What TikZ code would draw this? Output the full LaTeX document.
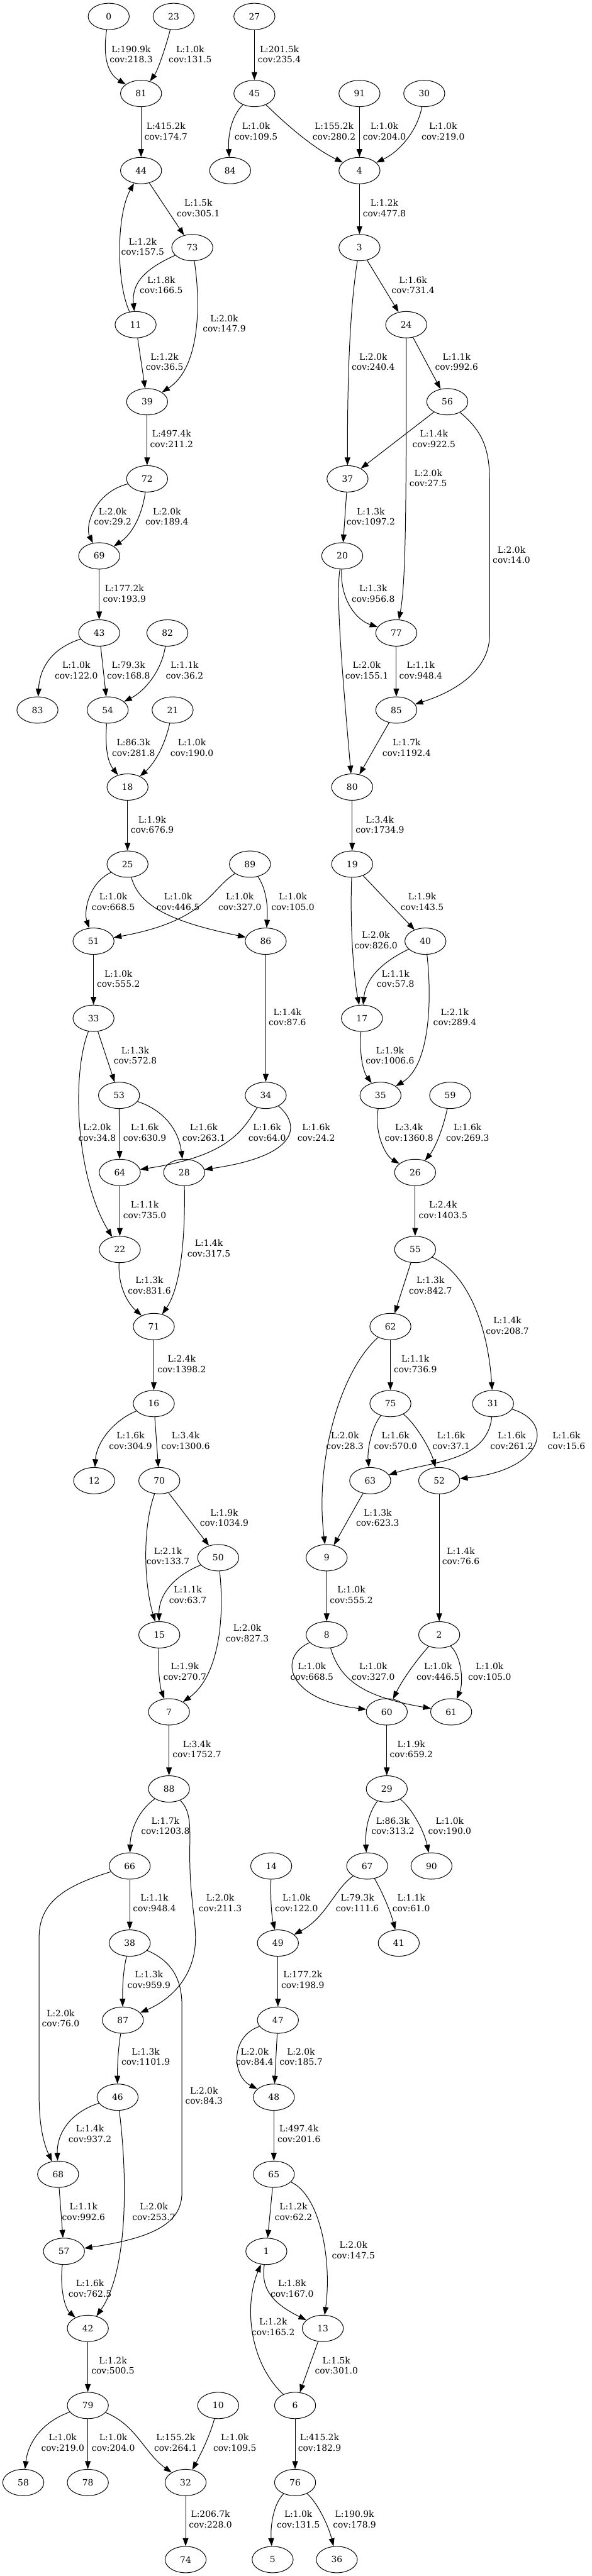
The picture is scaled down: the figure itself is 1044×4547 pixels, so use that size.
\documentclass[tikz,border=0pt]{standalone}
\usepackage{fontspec}
\setmainfont{DejaVu Serif}
\usetikzlibrary{shapes.geometric,arrows.meta}
\newcommand{\ND}[3]{\node[nd] (n#1) at (#2,{29+136.03*#3}) {#1};}
\newcommand{\EL}[4]{\node[lab] (#1) at (#2) {#3\\#4};}
\begin{document}
\begin{tikzpicture}[x=1pt,y=-1pt,
  every node/.style={font=\fontsize{15.4}{18.4}\selectfont},
  nd/.style={draw, ellipse, minimum width=72.5pt, minimum height=46.5pt, inner sep=0pt, line width=1.1pt},
  lab/.style={align=center, inner sep=0pt},
  edg/.style={draw, line width=1.1pt, -{Triangle[length=14pt,width=10pt]}}]
\fill[white] (0,0) rectangle (1044,4547);
\useasboundingbox (0,0) rectangle (1044,4547);
% nodes
\ND{0}{191.8}{0} \ND{23}{306.4}{0} \ND{27}{448.9}{0}
\ND{81}{248.9}{1} \ND{45}{448.9}{1} \ND{91}{634.3}{1} \ND{30}{748.6}{1}
\ND{44}{248.9}{2} \ND{84}{406.1}{2} \ND{4}{634.3}{2}
\ND{73}{339.3}{3} \ND{3}{634.3}{3}
\ND{11}{239.3}{4} \ND{24}{716.8}{4}
\ND{39}{259.6}{5} \ND{56}{789.3}{5}
\ND{72}{259.6}{6} \ND{37}{613.2}{6}
\ND{69}{175}{7} \ND{20}{603.9}{7}
\ND{43}{175}{8} \ND{82}{295.4}{8} \ND{77}{699.3}{8}
\ND{83}{66.1}{9} \ND{54}{190}{9} \ND{21}{304.6}{9} \ND{85}{699.3}{9}
\ND{18}{225}{10} \ND{80}{621.4}{10}
\ND{25}{225}{11} \ND{89}{441}{11} \ND{19}{621.4}{11}
\ND{51}{165}{12} \ND{86}{468.9}{12} \ND{40}{750.7}{12}
\ND{33}{165}{13} \ND{17}{638.6}{13}
\ND{53}{210}{14} \ND{34}{468.9}{14} \ND{35}{671.4}{14} \ND{59}{794.3}{14}
\ND{64}{211.4}{15} \ND{28}{325}{15} \ND{26}{732.5}{15}
\ND{22}{211.4}{16} \ND{55}{732.5}{16}
\ND{71}{271.4}{17} \ND{62}{688.9}{17}
\ND{16}{271.4}{18} \ND{75}{688.9}{18} \ND{31}{870}{18}
\ND{12}{166.1}{19} \ND{70}{281.1}{19} \ND{63}{653.2}{19} \ND{52}{775}{19}
\ND{50}{385}{20} \ND{9}{576.4}{20}
\ND{15}{281.1}{21} \ND{8}{576.4}{21} \ND{2}{775}{21}
\ND{7}{298.2}{22} \ND{60}{682.5}{22} \ND{61}{796.1}{22}
\ND{88}{298.2}{23} \ND{29}{682.5}{23}
\ND{66}{228.9}{24} \ND{14}{478.6}{24} \ND{67}{647.9}{24} \ND{90}{761.4}{24}
\ND{38}{228.9}{25} \ND{49}{490.4}{25} \ND{41}{703.6}{25}
\ND{87}{216.8}{26} \ND{47}{490.4}{26}
\ND{46}{207.5}{27} \ND{48}{483.2}{27}
\ND{68}{102.5}{28} \ND{65}{483.2}{28}
\ND{57}{112.9}{29} \ND{1}{470}{29}
\ND{42}{155}{30} \ND{13}{569.6}{30}
\ND{79}{155}{31} \ND{10}{385}{31} \ND{6}{520.7}{31}
\ND{58}{41.1}{32} \ND{78}{155}{32} \ND{32}{327.5}{32} \ND{76}{520.7}{32}
\ND{74}{327.5}{33} \ND{5}{481.1}{33} \ND{36}{594.3}{33}
% labels
\EL{l1}{231.4,96}{L:190.9k}{cov:218.3}
\EL{l2}{335.7,96}{L:1.0k}{cov:131.5}
\EL{l3}{492.9,96}{L:201.5k}{cov:235.4}
\EL{l4}{292.9,231.7}{L:415.2k}{cov:174.7}
\EL{l5}{451.8,231.7}{L:1.0k}{cov:109.5}
\EL{l6}{589.6,231.7}{L:155.2k}{cov:280.2}
\EL{l7}{678.2,231.7}{L:1.0k}{cov:204.0}
\EL{l8}{781.8,231.7}{L:1.0k}{cov:219.0}
\EL{l9}{350,367.4}{L:1.5k}{cov:305.1}
\EL{l10}{251.8,435.3}{L:1.2k}{cov:157.5}
\EL{l11}{284.6,503.2}{L:1.8k}{cov:166.5}
\EL{l12}{395.7,571}{L:2.0k}{cov:147.9}
\EL{l13}{290.4,638.9}{L:1.2k}{cov:36.5}
\EL{l14}{678.2,367.4}{L:1.2k}{cov:477.8}
\EL{l15}{728.9,503.2}{L:1.6k}{cov:731.4}
\EL{l16}{658.6,638.9}{L:2.0k}{cov:240.4}
\EL{l17}{805.7,638.9}{L:1.1k}{cov:992.6}
\EL{l18}{755.7,843.9}{L:2.0k}{cov:27.5}
\EL{l19}{765.7,774.5}{L:1.4k}{cov:922.5}
\EL{l20}{902.5,979.6}{L:2.0k}{cov:14.0}
\EL{l21}{302.9,774.5}{L:497.4k}{cov:211.2}
\EL{l22}{198.9,911.7}{L:2.0k}{cov:29.2}
\EL{l23}{294.6,911.7}{L:2.0k}{cov:189.4}
\EL{l24}{219.6,1047.5}{L:177.2k}{cov:193.9}
\EL{l25}{134.6,1183.2}{L:1.0k}{cov:122.0}
\EL{l26}{226.8,1183.2}{L:79.3k}{cov:168.8}
\EL{l27}{325.7,1183.2}{L:1.1k}{cov:36.2}
\EL{l28}{235.7,1319.9}{L:86.3k}{cov:281.8}
\EL{l29}{338.6,1319.9}{L:1.0k}{cov:190.0}
\EL{l30}{268.6,1455.6}{L:1.9k}{cov:676.9}
\EL{l31}{654.3,911.7}{L:1.3k}{cov:1097.2}
\EL{l32}{658.6,1047.5}{L:1.3k}{cov:956.8}
\EL{l33}{647.1,1183.2}{L:2.0k}{cov:155.1}
\EL{l34}{742.5,1183.2}{L:1.1k}{cov:948.4}
\EL{l35}{717.5,1319.9}{L:1.7k}{cov:1192.4}
\EL{l36}{670.4,1455.6}{L:3.4k}{cov:1734.9}
\EL{l37}{200,1591.7}{L:1.0k}{cov:668.5}
\EL{l38}{314.3,1591.7}{L:1.0k}{cov:446.5}
\EL{l39}{423.2,1591.7}{L:1.0k}{cov:327.0}
\EL{l40}{516.8,1591.7}{L:1.0k}{cov:105.0}
\EL{l41}{663.2,1659.6}{L:2.0k}{cov:826.0}
\EL{l42}{745,1591.7}{L:1.9k}{cov:143.5}
\EL{l43}{697.9,1727.5}{L:1.1k}{cov:57.8}
\EL{l44}{802.5,1795.3}{L:2.1k}{cov:289.4}
\EL{l45}{688.2,1863.2}{L:1.9k}{cov:1006.6}
\EL{l46}{208.9,1727.5}{L:1.0k}{cov:555.2}
\EL{l47}{507.1,1795.3}{L:1.4k}{cov:87.6}
\EL{l48}{238.6,1863.2}{L:1.3k}{cov:572.8}
\EL{l49}{171.4,1998.9}{L:2.0k}{cov:34.8}
\EL{l50}{255.4,1998.9}{L:1.6k}{cov:630.9}
\EL{l51}{359.6,1998.9}{L:1.6k}{cov:263.1}
\EL{l52}{471.4,1998.9}{L:1.6k}{cov:64.0}
\EL{l53}{557.9,1998.9}{L:1.6k}{cov:24.2}
\EL{l54}{721.8,1998.9}{L:3.4k}{cov:1360.8}
\EL{l55}{825,1998.9}{L:1.6k}{cov:269.3}
\EL{l56}{255.4,2135.6}{L:1.1k}{cov:735.0}
\EL{l57}{368.6,2203.5}{L:1.4k}{cov:317.5}
\EL{l58}{263.6,2268.9}{L:1.3k}{cov:831.6}
\EL{l59}{781.8,2135.6}{L:2.4k}{cov:1403.5}
\EL{l60}{759.6,2268.9}{L:1.3k}{cov:842.7}
\EL{l61}{895.4,2339.6}{L:1.4k}{cov:208.7}
\EL{l62}{320.7,2407.5}{L:2.4k}{cov:1398.2}
\EL{l63}{230.4,2543.2}{L:1.6k}{cov:304.9}
\EL{l64}{327.5,2543.2}{L:3.4k}{cov:1300.6}
\EL{l65}{395.7,2678.9}{L:1.9k}{cov:1034.9}
\EL{l66}{296.4,2746.8}{L:2.1k}{cov:133.7}
\EL{l67}{331.4,2814.7}{L:1.1k}{cov:63.7}
\EL{l68}{436.4,2882.5}{L:2.0k}{cov:827.3}
\EL{l69}{326.1,2950.4}{L:1.9k}{cov:270.7}
\EL{l70}{732.9,2407.5}{L:1.1k}{cov:736.9}
\EL{l71}{608.6,2543.2}{L:2.0k}{cov:28.3}
\EL{l72}{697.9,2543.2}{L:1.6k}{cov:570.0}
\EL{l73}{796.1,2543.2}{L:1.6k}{cov:37.1}
\EL{l74}{903.2,2543.2}{L:1.6k}{cov:261.2}
\EL{l75}{999.6,2543.2}{L:1.6k}{cov:15.6}
\EL{l76}{666.4,2678.9}{L:1.3k}{cov:623.3}
\EL{l77}{813.2,2746.8}{L:1.4k}{cov:76.6}
\EL{l78}{620,2814.7}{L:1.0k}{cov:555.2}
\EL{l79}{550.4,2950.4}{L:1.0k}{cov:668.5}
\EL{l80}{658.6,2950.4}{L:1.0k}{cov:327.0}
\EL{l81}{772.9,2950.4}{L:1.0k}{cov:446.5}
\EL{l82}{863.9,2950.4}{L:1.0k}{cov:105.0}
\EL{l83}{347.5,3087.5}{L:3.4k}{cov:1752.7}
\EL{l84}{725.7,3087.5}{L:1.9k}{cov:659.2}
\EL{l85}{291.8,3223.2}{L:1.7k}{cov:1203.8}
\EL{l86}{388.6,3359}{L:2.0k}{cov:211.3}
\EL{l87}{693.2,3223.2}{L:86.3k}{cov:313.2}
\EL{l88}{793.6,3223.2}{L:1.0k}{cov:190.0}
\EL{l89}{272.5,3359}{L:1.1k}{cov:948.4}
\EL{l90}{107.1,3562.5}{L:2.0k}{cov:76.0}
\EL{l91}{523.2,3359}{L:1.0k}{cov:122.0}
\EL{l92}{630.7,3359}{L:79.3k}{cov:111.6}
\EL{l93}{725.7,3359}{L:1.1k}{cov:61.0}
\EL{l94}{262.9,3494.7}{L:1.3k}{cov:959.9}
\EL{l95}{360,3699.3}{L:2.0k}{cov:84.3}
\EL{l96}{257.1,3630.4}{L:1.3k}{cov:1101.9}
\EL{l97}{449.3,3630.4}{L:2.0k}{cov:84.4}
\EL{l98}{531.1,3630.4}{L:2.0k}{cov:185.7}
\EL{l99}{534.3,3494.7}{L:177.2k}{cov:198.9}
\EL{l100}{158.9,3766.1}{L:1.4k}{cov:937.2}
\EL{l101}{271.4,3903.9}{L:2.0k}{cov:253.7}
\EL{l102}{527.5,3766.1}{L:497.4k}{cov:201.6}
\EL{l103}{147.5,3903.9}{L:1.1k}{cov:992.6}
\EL{l104}{517.9,3903.9}{L:1.2k}{cov:62.2}
\EL{l105}{623.6,3971.5}{L:2.0k}{cov:147.5}
\EL{l106}{515.4,4039.6}{L:1.8k}{cov:167.0}
\EL{l107}{482.1,4107.3}{L:1.2k}{cov:165.2}
\EL{l108}{593.6,4175.4}{L:1.5k}{cov:301.0}
\EL{l109}{158.9,4039.6}{L:1.6k}{cov:762.5}
\EL{l110}{199.3,4175.4}{L:1.2k}{cov:500.5}
\EL{l111}{110.7,4311.2}{L:1.0k}{cov:219.0}
\EL{l112}{200,4311.2}{L:1.0k}{cov:204.0}
\EL{l113}{310,4311.2}{L:155.2k}{cov:264.1}
\EL{l114}{414.3,4311.2}{L:1.0k}{cov:109.5}
\EL{l115}{563.9,4311.2}{L:415.2k}{cov:182.9}
\EL{l116}{371.4,4447}{L:206.7k}{cov:228.0}
\EL{l117}{526.4,4447}{L:1.0k}{cov:131.5}
\EL{l118}{625.7,4447}{L:190.9k}{cov:178.9}
% straight edges
\foreach \a/\b in {27/45,81/44,91/4,44/73,11/39,4/3,3/24,24/56,56/37,39/72,69/43,43/54,18/25,37/20,77/85,85/80,80/19,51/33,86/34,33/53,19/40,53/64,64/22,26/55,55/62,71/16,16/70,70/50,62/75,63/9,52/2,9/8,7/88,60/29,66/38,49/47,47/48,48/65,68/57,65/1,13/6,42/79,79/78,6/76,32/74}
  \draw[edg] (n\a) -- (n\b);
% curved edges
\draw[edg] (n0) .. controls (181,100) and (190,130) .. (n81);
\draw[edg] (n23) .. controls (292,85) and (278,125) .. (n81);
\draw[edg] (n45) .. controls (408,205) and (402,240) .. (n84);
\draw[edg] (n45) .. controls (500,215) and (550,260) .. (n4);
\draw[edg] (n30) .. controls (738,225) and (710,265) .. (n4);
\draw[edg] (n11) .. controls (205,500) and (205,380) .. (n44);
\draw[edg] (n73) .. controls (255,475) and (232,500) .. (n11);
\draw[edg] (n73) .. controls (355,540) and (352,650) .. (n39);
\draw[edg] (n3) .. controls (615,560) and (613,700) .. (n37);
\draw[edg] (n24) .. controls (717,900) and (716,1030) .. (n77);
\draw[edg] (n56) .. controls (850,760) and (864,790) .. (864,850) -- (864,1120) .. controls (864,1190) and (790,1225) .. (n85);
\draw[edg] (n72) .. controls (165,870) and (150,930) .. (n69);
\draw[edg] (n72) .. controls (250,915) and (230,945) .. (n69);
\draw[edg] (n43) .. controls (90,1145) and (70,1180) .. (n83);
\draw[edg] (n82) .. controls (285,1185) and (255,1220) .. (n54);
\draw[edg] (n54) .. controls (185,1320) and (190,1345) .. (n18);
\draw[edg] (n21) .. controls (290,1320) and (270,1350) .. (n18);
\draw[edg] (n20) .. controls (600,1060) and (630,1095) .. (n77);
\draw[edg] (n20) .. controls (592,1050) and (605,1200) .. (n80);
\draw[edg] (n25) .. controls (155,1560) and (148,1610) .. (n51);
\draw[edg] (n25) .. controls (245,1595) and (290,1625) .. (n86);
\draw[edg] (n89) .. controls (370,1570) and (365,1625) .. (n51);
\draw[edg] (n89) .. controls (470,1570) and (473,1600) .. (n86);
\draw[edg] (n19) .. controls (617,1640) and (625,1730) .. (n17);
\draw[edg] (n40) .. controls (670,1700) and (645,1730) .. (n17);
\draw[edg] (n40) .. controls (762,1760) and (760,1880) .. (n35);
\draw[edg] (n17) .. controls (634,1860) and (640,1890) .. (n35);
\draw[edg] (n33) .. controls (125,1900) and (135,2080) .. (n22);
\draw[edg] (n53) .. controls (290,1960) and (315,1995) .. (n28);
\draw[edg] (n34) .. controls (430,1990) and (410,2040) .. (n64);
\draw[edg] (n34) .. controls (530,1985) and (530,2040) .. (n28);
\draw[edg] (n35) .. controls (660,2000) and (680,2040) .. (n26);
\draw[edg] (n59) .. controls (780,2000) and (765,2030) .. (n26);
\draw[edg] (n28) .. controls (327,2180) and (320,2270) .. (n71);
\draw[edg] (n22) .. controls (208,2270) and (225,2300) .. (n71);
\draw[edg] (n55) .. controls (820,2245) and (860,2330) .. (n31);
\draw[edg] (n16) .. controls (195,2510) and (170,2550) .. (n12);
\draw[edg] (n70) .. controls (250,2700) and (255,2800) .. (n15);
\draw[edg] (n50) .. controls (300,2785) and (280,2820) .. (n15);
\draw[edg] (n50) .. controls (397,2860) and (385,2960) .. (n7);
\draw[edg] (n15) .. controls (278,2950) and (283,2980) .. (n7);
\draw[edg] (n62) .. controls (600,2420) and (555,2580) .. (n9);
\draw[edg] (n75) .. controls (655,2520) and (648,2560) .. (n63);
\draw[edg] (n75) .. controls (735,2515) and (760,2560) .. (n52);
\draw[edg] (n31) .. controls (860,2580) and (760,2580) .. (n63);
\draw[edg] (n31) .. controls (980,2510) and (960,2595) .. (n52);
\draw[edg] (n8) .. controls (490,2925) and (505,3000) .. (n60);
\draw[edg] (n8) .. controls (600,2965) and (640,2995) .. (n61);
\draw[edg] (n2) .. controls (735,2930) and (710,2965) .. (n60);
\draw[edg] (n2) .. controls (815,2925) and (818,2970) .. (n61);
\draw[edg] (n88) .. controls (245,3195) and (230,3230) .. (n66);
\draw[edg] (n88) .. controls (340,3200) and (334,3230) .. (335,3290) .. controls (336,3350) and (345,3390) .. (345,3420) .. controls (345,3490) and (300,3530) .. (n87);
\draw[edg] (n29) .. controls (650,3200) and (644,3230) .. (n67);
\draw[edg] (n29) .. controls (725,3190) and (748,3230) .. (n90);
\draw[edg] (n66) .. controls (110,3330) and (69,3360) .. (69,3420) -- (69,3700) .. controls (69,3760) and (80,3790) .. (n68);
\draw[edg] (n14) .. controls (477,3360) and (480,3385) .. (n49);
\draw[edg] (n67) .. controls (590,3335) and (575,3385) .. (n49);
\draw[edg] (n67) .. controls (672,3335) and (688,3370) .. (n41);
\draw[edg] (n38) .. controls (217,3480) and (216,3510) .. (n87);
\draw[edg] (n38) .. controls (300,3460) and (321,3490) .. (321,3540) -- (321,3870) .. controls (321,3925) and (270,3950) .. (n57);
\draw[edg] (n87) .. controls (208,3620) and (207,3650) .. (n46);
\draw[edg] (n47) .. controls (405,3595) and (410,3665) .. (n48);
\draw[edg] (n46) .. controls (120,3730) and (100,3770) .. (n68);
\draw[edg] (n46) .. controls (226,3850) and (225,4010) .. (n42);
\draw[edg] (n65) .. controls (565,3875) and (586,3990) .. (n13);
\draw[edg] (n1) .. controls (460,4040) and (480,4065) .. (n13);
\draw[edg] (n6) .. controls (440,4170) and (430,4070) .. (n1);
\draw[edg] (n57) .. controls (105,4040) and (115,4075) .. (n42);
\draw[edg] (n79) .. controls (75,4275) and (50,4310) .. (n58);
\draw[edg] (n79) .. controls (240,4280) and (255,4330) .. (n32);
\draw[edg] (n10) .. controls (370,4300) and (355,4330) .. (n32);
\draw[edg] (n76) .. controls (482,4420) and (477,4460) .. (n5);
\draw[edg] (n76) .. controls (562,4420) and (580,4460) .. (n36);
\end{tikzpicture}
\end{document}
